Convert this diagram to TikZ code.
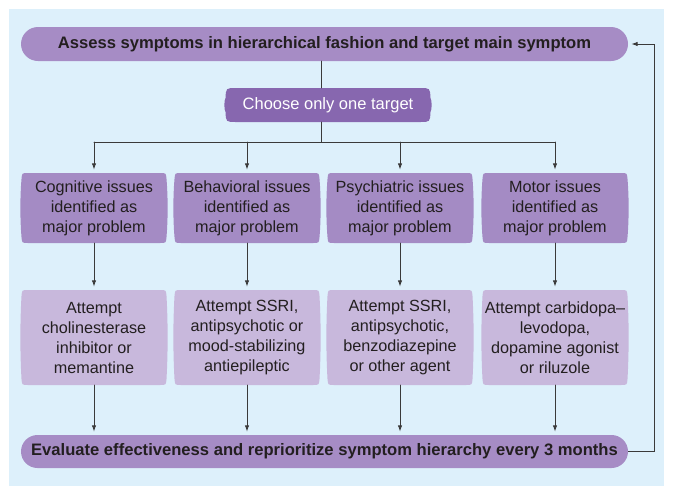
\documentclass[tikz,border=0pt]{standalone}
\usepackage{fontspec}
\setmainfont{Liberation Sans}
\usepackage{tikz}
\usetikzlibrary{arrows.meta, calc, shapes.misc, positioning}
\definecolor{panelBlue}{HTML}{DDF0FB}
\definecolor{pillPurple}{HTML}{A68CC5}
\definecolor{choosePurple}{HTML}{8767AF}
\definecolor{issuePurple}{HTML}{A48BC4}
\definecolor{attemptPurple}{HTML}{C8B8DC}
\definecolor{inkGray}{HTML}{231F20}
\definecolor{lineGray}{HTML}{3A3A3A}
\newcommand{\BarrelShape}[5][6]{
	\def\brad{#1}
	\def\bpin{#2}
	\def\bfill{#3}
	\def\bwid{#4}
	\def\bhgt{#5}
	\def\bbulge{2}
	\fill[\bfill] ($(\bpin)+(-0.5*\bwid+\brad,-0.5*\bhgt)$) -- ($(\bpin)+(0.5*\bwid-\brad,-0.5*\bhgt)$)
		.. controls ($(\bpin)+(0.5*\bwid,-0.5*\bhgt)$) .. ($(\bpin)+(0.5*\bwid+0.5,-0.5*\bhgt+\brad)$)
		.. controls ($(\bpin)+(0.5*\bwid+\bbulge,-0.15*\bhgt)$) and ($(\bpin)+(0.5*\bwid+\bbulge,0.15*\bhgt)$) .. ($(\bpin)+(0.5*\bwid+0.5,0.5*\bhgt-\brad)$)
		.. controls ($(\bpin)+(0.5*\bwid,0.5*\bhgt)$) .. ($(\bpin)+(0.5*\bwid-\brad,0.5*\bhgt)$)
		-- ($(\bpin)+(-0.5*\bwid+\brad,0.5*\bhgt)$)
		.. controls ($(\bpin)+(-0.5*\bwid,0.5*\bhgt)$) .. ($(\bpin)+(-0.5*\bwid-0.5,0.5*\bhgt-\brad)$)
		.. controls ($(\bpin)+(-0.5*\bwid-\bbulge,0.15*\bhgt)$) and ($(\bpin)+(-0.5*\bwid-\bbulge,-0.15*\bhgt)$) .. ($(\bpin)+(-0.5*\bwid-0.5,-0.5*\bhgt+\brad)$)
		.. controls ($(\bpin)+(-0.5*\bwid,-0.5*\bhgt)$) .. ($(\bpin)+(-0.5*\bwid+\brad,-0.5*\bhgt)$) -- cycle;
}

\begin{document}
\begin{tikzpicture}[x=1pt, y=-1pt, line cap=round,
	pill/.style={rounded rectangle, fill=pillPurple, minimum width=607pt, minimum height=34pt, inner sep=0pt, text=inkGray, font=\bfseries\fontsize{16.6}{19}\selectfont},
	choosebox/.style={minimum width=204pt, minimum height=34pt, inner sep=0pt, text=white, font=\fontsize{16.5}{20}\selectfont},
	issuebox/.style={minimum width=144pt, minimum height=70pt, inner sep=0pt, align=center, text=inkGray, font=\fontsize{16.2}{20}\selectfont},
	trybox/.style={issuebox, minimum height=95pt},
	link/.style={lineGray, line width=1pt},
	arrow/.style={link, -{Latex[length=6.5pt, width=4.5pt]}, shorten >=3pt}]

	\useasboundingbox (0,0) rectangle (674,496);
	\fill[panelBlue] (9,9) rectangle (664,486);

	\coordinate (fork) at (321,142);
	\coordinate (loop) at (654,0);
	\coordinate (choosePin) at (328,105);

	\coordinate (cogPin) at (94,208);
	\coordinate (behPin) at (247,208);
	\coordinate (psyPin) at (400,208);
	\coordinate (motPin) at (555,208);

	\coordinate (cogTryPin) at (94,337.5);
	\coordinate (behTryPin) at (247,337.5);
	\coordinate (psyTryPin) at (400,337.5);
	\coordinate (motTryPin) at (555,337.5);

	\node[pill] (assess) at (324.5,44) {Assess symptoms in hierarchical fashion and target main symptom};
	\node[pill, minimum height=33pt] (evaluate) at (324.5,451.5) {Evaluate effectiveness and reprioritize symptom hierarchy every 3 months};

	\BarrelShape[10]{choosePin}{choosePurple}{204}{34}
	\node[choosebox] (choose) at (choosePin) {Choose only one target};

	\BarrelShape{cogPin}{issuePurple}{144}{70}
	\BarrelShape{behPin}{issuePurple}{144}{70}
	\BarrelShape{psyPin}{issuePurple}{144}{70}
	\BarrelShape{motPin}{issuePurple}{144}{70}
	\node[issuebox] (cog) at (cogPin) {Cognitive issues\\identified as\\major problem};
	\node[issuebox] (beh) at (behPin) {Behavioral issues\\identified as\\major problem};
	\node[issuebox] (psy) at (psyPin) {Psychiatric issues\\identified as\\major problem};
	\node[issuebox] (mot) at (motPin) {Motor issues\\identified as\\major problem};

	\BarrelShape{cogTryPin}{attemptPurple}{144}{95}
	\BarrelShape{behTryPin}{attemptPurple}{144}{95}
	\BarrelShape{psyTryPin}{attemptPurple}{144}{95}
	\BarrelShape{motTryPin}{attemptPurple}{144}{95}
	\node[trybox] (cogTry) at (cogTryPin) {Attempt\\cholinesterase\\inhibitor or\\memantine};
	\node[trybox] (behTry) at (behTryPin) {Attempt SSRI,\\antipsychotic or\\mood-stabilizing\\antiepileptic};
	\node[trybox] (psyTry) at (psyTryPin) {Attempt SSRI,\\antipsychotic,\\benzodiazepine\\or other agent};
	\node[trybox] (motTry) at (motTryPin) {Attempt carbidopa--\\levodopa,\\dopamine agonist\\or riluzole};

	\draw[link] (assess.south -| fork) -- (choose.north -| fork);
	\draw[link] (choose.south -| fork) -- (fork);
	\draw[link] (cog.north |- fork) -- (mot.north |- fork);

	\draw[arrow] (cog.north |- fork) -- (cog.north);
	\draw[arrow] (beh.north |- fork) -- (beh.north);
	\draw[arrow] (psy.north |- fork) -- (psy.north);
	\draw[arrow] (mot.north |- fork) -- (mot.north);

	\draw[arrow] (cog.south) -- (cogTry.north);
	\draw[arrow] (beh.south) -- (behTry.north);
	\draw[arrow] (psy.south) -- (psyTry.north);
	\draw[arrow] (mot.south) -- (motTry.north);

	\draw[arrow] (cogTry.south) -- (evaluate.north -| cogTry.south);
	\draw[arrow] (behTry.south) -- (evaluate.north -| behTry.south);
	\draw[arrow] (psyTry.south) -- (evaluate.north -| psyTry.south);
	\draw[arrow] (motTry.south) -- (evaluate.north -| motTry.south);

	\draw[arrow, line cap=butt] (evaluate.east) -- (evaluate.east -| loop) -- (assess.east -| loop) -- (assess.east);

\end{tikzpicture}
\end{document}
